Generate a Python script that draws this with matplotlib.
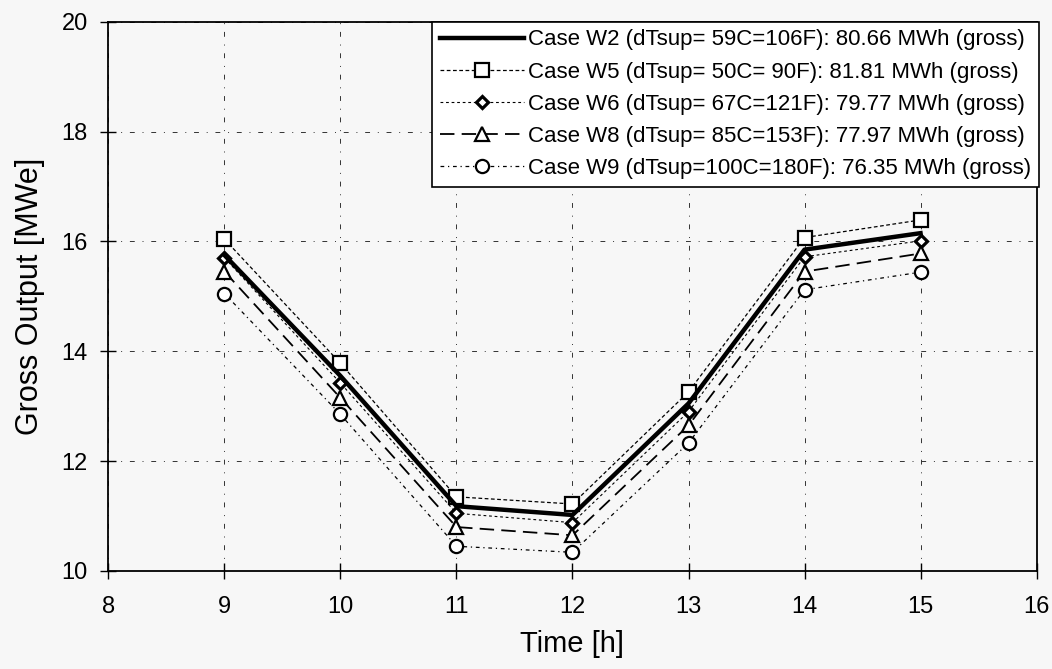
import matplotlib
matplotlib.use("Agg")
import matplotlib.pyplot as plt

plt.rcParams['font.family'] = ['Liberation Sans', 'DejaVu Sans']

hours = [9, 10, 11, 12, 13, 14, 15]
w2 = [15.75, 13.55, 11.18, 11.02, 13.05, 15.85, 16.15]
w5 = [16.04, 13.78, 11.35, 11.22, 13.26, 16.07, 16.39]
w6 = [15.70, 13.42, 11.05, 10.88, 12.90, 15.72, 16.01]
w8 = [15.45, 13.15, 10.80, 10.65, 12.65, 15.45, 15.78]
w9 = [15.05, 12.85, 10.45, 10.34, 12.33, 15.12, 15.44]

labels = [
    "Case W2 (dTsup= 59C=106F): 80.66 MWh (gross)",
    "Case W5 (dTsup= 50C= 90F): 81.81 MWh (gross)",
    "Case W6 (dTsup= 67C=121F): 79.77 MWh (gross)",
    "Case W8 (dTsup= 85C=153F): 77.97 MWh (gross)",
    "Case W9 (dTsup=100C=180F): 76.35 MWh (gross)",
]
x_ticks = [8, 9, 10, 11, 12, 13, 14, 15, 16]
y_ticks = [10, 12, 14, 16, 18, 20]

bg = '#f7f7f7'
fig = plt.figure(figsize=(10.52, 6.69), dpi=100, facecolor=bg)
ax = fig.add_axes([0.1031, 0.1465, 0.8822, 0.8211], facecolor=bg)

mk = dict(markerfacecolor='white', markeredgecolor='black', markeredgewidth=1.6)
ax.plot(hours, w2, color='black', lw=3.2, label=labels[0], zorder=5)
ax.plot(hours, w5, color='black', lw=0.9, dashes=(3, 2), marker='s', markersize=10, label=labels[1], zorder=4, **mk)
ax.plot(hours, w6, color='black', lw=0.8, dashes=(2.5, 2.5), marker='D', markersize=6.5, label=labels[2], zorder=4,
        markerfacecolor='white', markeredgecolor='black', markeredgewidth=2.3)
ax.plot(hours, w8, color='black', lw=1.3, dashes=(8, 4), marker='^', markersize=10, label=labels[3], zorder=4, **mk)
ax.plot(hours, w9, color='black', lw=0.9, dashes=(3, 3, 1, 3), marker='o', markersize=9.5, label=labels[4], zorder=4, **mk)

ax.set_xlim(8, 16)
ax.set_ylim(10, 20)
ax.set_xticks(x_ticks)
ax.set_yticks(y_ticks)
ax.tick_params(direction='inout', length=12, width=1, labelsize=17, colors='black')
ax.tick_params(axis='x', pad=12)
ax.tick_params(axis='y', pad=9)
ax.grid(True, color='0.2', lw=0.7, linestyle=(0, (5, 8, 1, 8)))
for s in ax.spines.values():
    s.set_linewidth(1.3)
    s.set_color('black')

ax.set_xlabel("Time [h]", fontsize=21, labelpad=9)
ax.set_ylabel("Gross Output [MWe]", fontsize=22, labelpad=12)

leg = ax.legend(loc='upper right', bbox_to_anchor=(1.003, 1.0), borderaxespad=0,
                fontsize=16, handlelength=3.8, handletextpad=0.2, labelspacing=0.5,
                borderpad=0.35, fancybox=False, framealpha=1, edgecolor='black',
                facecolor='white')
leg.get_frame().set_linewidth(1.2)
leg.set_zorder(10)

fig.savefig("out.png", dpi=100, facecolor=bg)
